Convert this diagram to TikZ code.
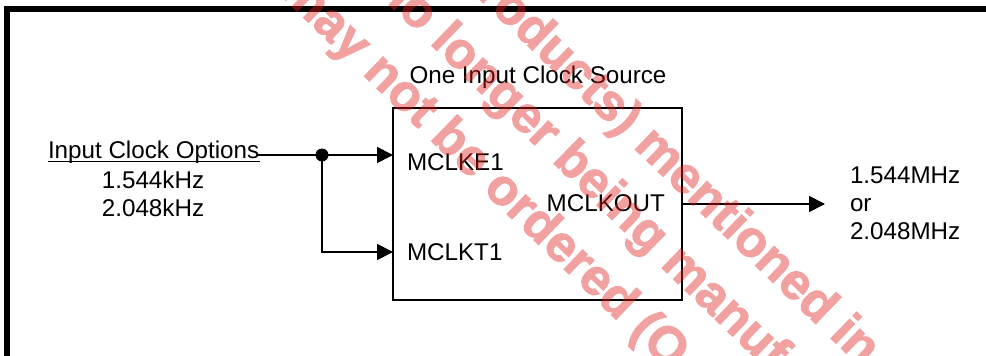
\documentclass[tikz,border=0pt]{standalone}
\usepackage{fontspec}
\setmainfont{Liberation Sans}
\newfontfamily\wmfont[FakeBold=2]{Liberation Sans Bold}
\usetikzlibrary{arrows.meta}
\definecolor{wm}{RGB}{225,30,30}
\begin{document}
\begin{tikzpicture}[x=1pt,y=-1pt,
  lbl/.style={font=\fontsize{24.2}{28}\selectfont, inner sep=0pt, outer sep=0pt},
  wire/.style={line width=1.8pt},
  arr/.style={wire,-{Triangle[length=16pt,width=16pt]}},
  frame/.style={line width=6pt},
  blockbox/.style={draw, line width=1.8pt, minimum width=289pt, minimum height=192pt, inner sep=0pt, outer sep=0pt},
  junction/.style={circle, fill, inner sep=0pt, minimum size=13pt},
  wmtext/.style={font=\fontsize{51}{60}\selectfont\wmfont, text=wm, rotate=-44, anchor=base west, inner sep=0pt}]
\useasboundingbox (0,0) rectangle (986,356);
\draw[frame] (7,370) -- (7,9) -- (995,9);
\node[blockbox, anchor=north west] (box) at (393,108) {};
\node[lbl, anchor=base] (title) at (538,83) {One Input Clock Source};
\node[lbl, anchor=base west] (inopt) at (48,158) {Input Clock Options};
\draw[line width=1.3pt] ([yshift=-3.5pt]inopt.base west) -- ([yshift=-3.5pt,xshift=1pt]inopt.base east);
\node[lbl, anchor=base] (f1) at (153,188) {1.544kHz};
\node[lbl, anchor=base] (f2) at (153,216) {2.048kHz};
\node[junction] (dot) at (322,155) {};
\coordinate (src) at (258,155);
\coordinate (e1) at (393,155);
\coordinate (bend) at (322,252);
\coordinate (t1) at (393,252);
\draw[wire] (src) -- (dot.center);
\draw[arr] (dot.center) -- (e1);
\draw[arr] (dot.center) -- (bend) -- (t1);
\node[lbl, anchor=base west] (mclke) at (407,170) {MCLKE1};
\node[lbl, anchor=base west] (mclkt) at (407,260) {MCLKT1};
\node[lbl, anchor=base east] (mclko) at (665,211) {MCLKOUT};
\coordinate (o1) at (682,204);
\coordinate (o2) at (825,204);
\draw[arr] (o1) -- (o2);
\node[lbl, anchor=base west] (out1) at (850,183) {1.544MHz};
\node[lbl, anchor=base west] (out2) at (850,211) {or};
\node[lbl, anchor=base west] (out3) at (850,239) {2.048MHz};
\begin{scope}[transparency group, opacity=0.42]
\clip (0,0) rectangle (986,356);
\node[wmtext] (wma) at (278,-7) {may not be ordered (O};
\node[wmtext] (wmb) at (374,-10) {no longer being manuf};
\node[wmtext] (wmc) at (441,-38) {(products) mentioned in};
\end{scope}
\end{tikzpicture}
\end{document}
